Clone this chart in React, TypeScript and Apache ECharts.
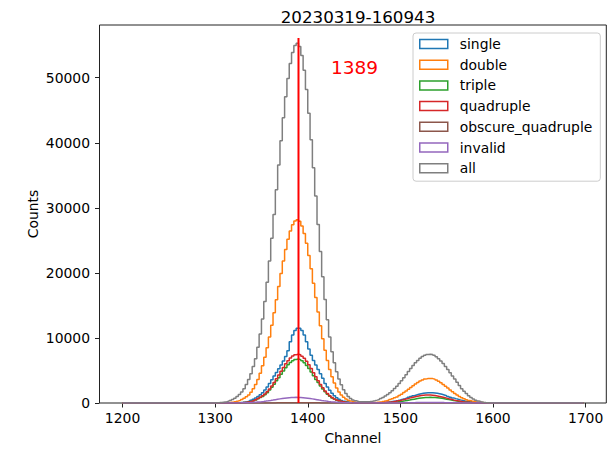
import React, { useEffect, useRef } from "react";
import * as echarts from "echarts";

const TITLE = "20230319-160943";
const X_NAME = "Channel";
const Y_NAME = "Counts";
const HIST_RANGE = [1200, 1697.5];
const BIN_START = 1300;
const BIN_WIDTH = 2.5;
const X_MIN = 1175.125;
const X_MAX = 1722.375;
const Y_MAX = 58100;
const X_TICKS = [1200, 1300, 1400, 1500, 1600, 1700];
const Y_TICKS = [0, 10000, 20000, 30000, 40000, 50000];
const PEAK_LINE_X = 1390;
const PEAK_LINE_TOP = 56100;
const PEAK_LABEL = "1389";
const PEAK_LABEL_AT = [1425, 51500];

const SERIES_NAMES = ["single", "double", "triple", "quadruple", "obscure_quadruple", "invalid", "all"];
const COLORS = ["#1f77b4", "#ff7f0e", "#2ca02c", "#d62728", "#8c564b", "#9467bd", "#7f7f7f"];

// counts per 2.5-channel bin, bins starting at 1300
const single = [
  0, 0, 1, 2, 3, 5, 9, 15, 24, 38,
  60, 95, 145, 210, 300, 420, 570, 760, 990, 1250,
  1580, 1980, 2450, 2980, 3560, 4150, 4700, 5270, 5850, 6450,
  7150, 8050, 9400, 10450, 11150, 11500, 11500, 11150, 10450, 9400,
  8300, 7350, 6550, 5850, 5150, 4500, 3800, 3000, 2450, 1950,
  1500, 1100, 800, 570, 400, 270, 180, 115, 72, 45,
  28, 17, 12, 9, 10, 9, 13, 19, 27, 37,
  52, 70, 93, 123, 160, 205, 259, 323, 397, 480,
  573, 675, 783, 895, 1010, 1125, 1230, 1330, 1420, 1490,
  1545, 1580, 1590, 1580, 1545, 1490, 1420, 1330, 1230, 1125,
  1010, 895, 783, 675, 573, 480, 397, 323, 259, 205,
  160, 123, 93, 70, 52, 37, 27, 19, 13, 9,
];
const double = [
  5, 10, 20, 30, 50, 80, 120, 170, 230, 300,
  400, 540, 720, 950, 1240, 1650, 2180, 2840, 3630, 4590,
  5720, 7030, 8500, 10150, 11950, 13870, 15870, 17900, 19910, 21830,
  23610, 25160, 26420, 27380, 27970, 28170, 27920, 27210, 26060, 24540,
  22680, 20620, 18420, 16200, 13970, 11860, 9890, 8100, 6520, 5160,
  4020, 3070, 2310, 1700, 1240, 880, 620, 425, 290, 190,
  127, 86, 59, 43, 39, 38, 45, 58, 80, 110,
  150, 200, 260, 340, 430, 540, 660, 800, 940, 1140,
  1360, 1600, 1860, 2130, 2400, 2670, 2930, 3170, 3380, 3550,
  3670, 3750, 3780, 3750, 3660, 3520, 3340, 3110, 2850, 2580,
  2290, 2010, 1730, 1470, 1230, 1010, 820, 650, 510, 395,
  300, 225, 165, 120, 86, 60, 42, 29, 19, 13,
];
const triple = [
  0, 0, 0, 0, 2, 4, 7, 10, 17, 26,
  39, 61, 89, 132, 188, 263, 357, 480, 640, 830,
  1010, 1280, 1590, 1980, 2415, 2900, 3410, 3870, 4400, 4930,
  5420, 5860, 6230, 6510, 6670, 6750, 6665, 6480, 6175, 5770,
  5290, 4760, 4195, 3630, 3150, 2620, 2140, 1710, 1350, 1040,
  785, 596, 432, 308, 216, 149, 100, 66, 43, 27,
  17, 10, 7, 4, 2, 3, 4, 7, 10, 14,
  20, 28, 38, 52, 69, 91, 118, 150, 188, 232,
  282, 338, 398, 462, 528, 593, 657, 716, 768, 811,
  843, 863, 870, 863, 843, 811, 768, 716, 657, 593,
  528, 462, 398, 338, 282, 232, 188, 150, 118, 91,
  69, 52, 38, 28, 20, 14, 10, 7, 4, 3,
];
const quadruple = [
  0, 0, 0, 1, 2, 4, 7, 11, 18, 28,
  42, 65, 95, 140, 200, 280, 380, 510, 680, 880,
  1100, 1390, 1730, 2150, 2625, 3150, 3710, 4300, 4890, 5475,
  6020, 6510, 6920, 7230, 7410, 7480, 7405, 7200, 6860, 6410,
  5880, 5290, 4660, 4030, 3425, 2850, 2325, 1860, 1465, 1130,
  853, 634, 460, 328, 230, 158, 106, 70, 46, 29,
  18, 11, 7, 6, 6, 7, 9, 14, 20, 28,
  39, 54, 73, 98, 129, 166, 212, 266, 329, 399,
  478, 563, 653, 746, 839, 928, 1012, 1085, 1146, 1192,
  1220, 1230, 1220, 1192, 1146, 1085, 1012, 928, 839, 746,
  653, 563, 478, 399, 329, 266, 212, 166, 129, 98,
  73, 54, 39, 28, 20, 14, 9, 6, 4, 2,
];
const obscureQuadruple = [
  0, 0, 0, 0, 0, 0, 0, 0, 0, 0,
  0, 0, 0, 0, 1, 2, 2, 3, 4, 5,
  7, 9, 11, 13, 16, 18, 21, 24, 27, 30,
  33, 35, 37, 39, 40, 40, 40, 39, 37, 35,
  33, 30, 27, 24, 21, 18, 16, 13, 11, 9,
  7, 5, 4, 3, 2, 2, 1, 0, 0, 0,
  0, 0, 0, 0, 0, 0, 0, 0, 0, 0,
  0, 0, 0, 0, 0, 0, 0, 1, 1, 2,
  2, 3, 3, 3, 4, 5, 5, 5, 6, 6,
  6, 6, 6, 6, 6, 6, 5, 5, 5, 4,
  3, 3, 3, 2, 2, 2, 1, 1, 0, 0,
  0, 0, 0, 0, 0, 0, 0, 0, 0, 0,
];
const invalid = [
  0, 1, 1, 2, 3, 4, 5, 8, 11, 15,
  21, 29, 38, 50, 66, 85, 107, 135, 167, 203,
  245, 292, 343, 398, 456, 516, 575, 634, 690, 740,
  785, 821, 848, 864, 870, 864, 848, 821, 785, 740,
  690, 634, 575, 516, 456, 398, 343, 292, 245, 203,
  167, 135, 107, 85, 66, 50, 38, 29, 21, 15,
  11, 8, 5, 4, 3, 2, 1, 0, 0, 1,
  2, 3, 4, 5, 6, 8, 11, 14, 17, 21,
  26, 31, 37, 42, 49, 55, 60, 66, 71, 75,
  78, 79, 80, 79, 78, 75, 71, 66, 60, 55,
  49, 42, 37, 31, 26, 21, 17, 14, 11, 8,
  6, 5, 4, 3, 2, 1, 0, 0, 0, 0,
];
const all = [
  40, 60, 95, 140, 200, 290, 400, 550, 740, 980,
  1300, 1700, 2200, 2850, 3600, 4500, 5600, 6820, 8550, 10590,
  12930, 15600, 18570, 21820, 25320, 28990, 32780, 36580, 40300, 43830,
  47060, 49870, 52180, 53890, 54950, 55300, 54800, 53420, 51150, 48170,
  44520, 40480, 36170, 31800, 27430, 23280, 19410, 15900, 12810, 10140,
  7890, 6200, 4800, 3700, 2800, 2050, 1450, 1010, 695, 471,
  330, 242, 198, 178, 175, 195, 225, 275, 345, 440,
  540, 690, 860, 1060, 1290, 1560, 1870, 2210, 2590, 3000,
  3430, 3890, 4360, 4830, 5300, 5750, 6170, 6550, 6880, 7140,
  7340, 7460, 7500, 7455, 7325, 7110, 6820, 6470, 6060, 5615,
  5140, 4650, 4155, 3670, 3200, 2700, 2200, 1800, 1450, 1130,
  850, 620, 440, 300, 200, 130, 80, 50, 30, 18,
];

const SERIES_VALUES = [single, double, triple, quadruple, obscureQuadruple, invalid, all];

const FONT = "DejaVu Sans";

function toSteps(vals: number[]): number[][] {
  const pts: number[][] = [[HIST_RANGE[0], 0]];
  vals.forEach((v, i) => pts.push([BIN_START + i * BIN_WIDTH, v]));
  pts.push([BIN_START + vals.length * BIN_WIDTH, 0]);
  pts.push([HIST_RANGE[1], 0]);
  return pts;
}

export default function App() {
  const ref = useRef<HTMLDivElement>(null);
  useEffect(() => {
    document.body.style.margin = "0";
    if (!ref.current) return;
    const chart = echarts.init(ref.current, undefined, { renderer: "svg" });
    const histSeries = SERIES_NAMES.map((name, i) => ({
      name,
      type: "line",
      step: "end",
      data: toSteps(SERIES_VALUES[i]),
      symbol: "none",
      showSymbol: false,
      lineStyle: { color: COLORS[i], width: 1.5 },
      itemStyle: { color: COLORS[i] },
      emphasis: { disabled: true },
      z: 2 + i,
    }));
    const axisText = { fontFamily: FONT, fontSize: 13.9, color: "#000" };
    const option: any = {
      animation: false,
      backgroundColor: "#ffffff",
      title: {
        text: TITLE,
        left: 353,
        top: 3,
        textAlign: "center",
        textStyle: { fontFamily: FONT, fontSize: 16.7, fontWeight: "normal", color: "#000", lineHeight: 18 },
      },
      grid: {
        left: 99.5,
        top: 25,
        width: 506.8,
        height: 378,
        show: true,
        borderColor: "#222",
        borderWidth: 1,
        backgroundColor: "transparent",
      },
      legend: {
        orient: "vertical",
        left: 413,
        top: 33,
        width: 188,
        data: SERIES_NAMES.map((n, i) => ({
          name: n,
          icon: "rect",
          itemStyle: { color: "rgba(0,0,0,0)", borderColor: COLORS[i], borderWidth: 1.5 },
        })),
        itemWidth: 28,
        itemHeight: 9,
        itemGap: 6.7,
        padding: [4, 8, 6, 6],
        backgroundColor: "rgba(255,255,255,0.8)",
        borderColor: "#cccccc",
        borderWidth: 1,
        borderRadius: 3,
        selectedMode: false,
        textStyle: { fontFamily: FONT, fontSize: 13.9, color: "#000", lineHeight: 14, padding: [0, 0, 0, 7] },
      },
      xAxis: {
        type: "value",
        min: X_MIN,
        max: X_MAX,
        name: X_NAME,
        nameLocation: "middle",
        nameGap: 28,
        nameMoveOverlap: false,
        nameTextStyle: axisText,
        axisLine: { show: false },
        axisTick: { show: true, inside: false, length: 4.5, lineStyle: { color: "#222", width: 1 }, customValues: X_TICKS },
        axisLabel: { ...axisText, margin: 8, customValues: X_TICKS, formatter: (v: number) => String(v) },
        splitLine: { show: false },
      },
      yAxis: {
        type: "value",
        min: 0,
        max: Y_MAX,
        name: Y_NAME,
        nameLocation: "middle",
        nameGap: 60,
        nameMoveOverlap: false,
        nameTextStyle: axisText,
        axisLine: { show: false },
        axisTick: { show: true, inside: false, length: 4.5, lineStyle: { color: "#222", width: 1 }, customValues: Y_TICKS },
        axisLabel: { ...axisText, margin: 9.5, customValues: Y_TICKS, formatter: (v: number) => String(v) },
        splitLine: { show: false },
      },
      series: [
        ...histSeries,
        {
          name: "peak",
          type: "line",
          data: [
            [PEAK_LINE_X, 0],
            [PEAK_LINE_X, PEAK_LINE_TOP],
          ],
          symbol: "none",
          lineStyle: { color: "#ff0000", width: 2 },
          itemStyle: { color: "#ff0000" },
          emphasis: { disabled: true },
          z: 20,
        },
      ],
    };
    chart.setOption(option);
    const p = chart.convertToPixel({ gridIndex: 0 }, PEAK_LABEL_AT) as number[];
    chart.setOption({
      graphic: [
        {
          type: "text",
          x: p[0],
          y: p[1],
          z: 30,
          style: {
            text: PEAK_LABEL,
            fill: "#ff0000",
            fontSize: 18.5,
            fontFamily: FONT,
            align: "left",
            verticalAlign: "middle",
          },
        },
      ],
    });
    return () => chart.dispose();
  }, []);
  return <div ref={ref} style={{ width: 615, height: 462 }} />;
}
